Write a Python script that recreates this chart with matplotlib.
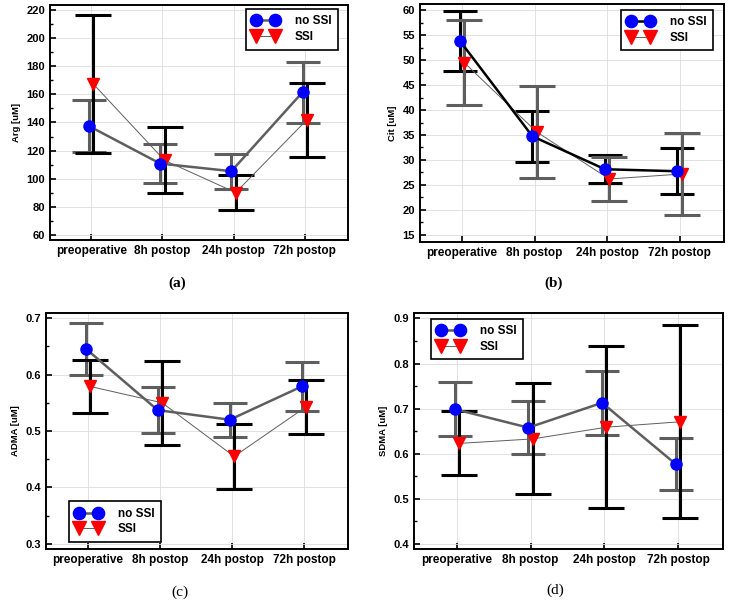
import matplotlib
matplotlib.use("Agg")
import matplotlib.pyplot as plt
import numpy as np

plt.rcParams['font.family'] = ['Liberation Sans', 'DejaVu Sans']

# categorias del eje x
times = ['preoperative', '8h postop', '24h postop', '72h postop']

# Arg
arg_no = [137.4, 110.8, 105.4, 161.5]
arg_no_err = [18.3, 13.8, 12.5, 21.6]
arg_ssi = [167.3, 113.1, 90.2, 141.8]
arg_ssi_err = [49.0, 23.4, 12.4, 26.3]

# Cit
cit_no = [53.85, 34.75, 28.15, 27.75]
cit_no_err = [6.05, 5.1, 2.75, 4.6]
cit_ssi = [49.5, 35.6, 26.2, 27.2]
cit_ssi_err = [8.5, 9.3, 4.4, 8.2]

# ADMA
adma_no = [0.646, 0.537, 0.520, 0.579]
adma_no_err = [0.046, 0.041, 0.030, 0.044]
adma_ssi = [0.579, 0.550, 0.455, 0.543]
adma_ssi_err = [0.047, 0.074, 0.057, 0.048]

# SDMA
sdma_no = [0.699, 0.658, 0.713, 0.577]
sdma_no_err = [0.060, 0.059, 0.071, 0.058]
sdma_ssi = [0.623, 0.633, 0.659, 0.671]
sdma_ssi_err = [0.071, 0.123, 0.180, 0.214]

GRAY = '#5e5e5e'

fig = plt.figure(figsize=(7.29, 6.0), dpi=100)

paneles = [
    # pos, datos, ylabel, ylim, yticks, minor, leyenda, etiqueta
    ([0.0686, 0.600, 0.4088, 0.3917], arg_no, arg_no_err, arg_ssi, arg_ssi_err,
     'Arg [uM]', (56.5, 223.5), np.arange(60, 221, 20), 10,
     ('upper right', (0.966, 0.983)), '(a)', (0.243, 0.528), 'bold', False),
    ([0.576, 0.5967, 0.417, 0.3966], cit_no, cit_no_err, cit_ssi, cit_ssi_err,
     'Cit [uM]', (13.6, 61.2), np.arange(15, 61, 5), 2.5,
     ('upper right', (0.964, 0.975)), '(b)', (0.760, 0.528), 'bold', True),
    ([0.0631, 0.085, 0.4143, 0.3933], adma_no, adma_no_err, adma_ssi, adma_ssi_err,
     'ADMA [uM]', (0.291, 0.709), np.arange(0.3, 0.71, 0.1), 0.05,
     ('lower left', (0.076, 0.030)), '(c)', (0.247, 0.013), 'normal', False),
    ([0.5679, 0.085, 0.4239, 0.3933], sdma_no, sdma_no_err, sdma_ssi, sdma_ssi_err,
     'SDMA [uM]', (0.389, 0.912), np.arange(0.4, 0.91, 0.1), 0.05,
     ('upper left', (0.055, 0.975)), '(d)', (0.761, 0.017), 'normal', False),
]

x = np.arange(len(times))

for (pos, no, no_err, ssi, ssi_err, ylabel, ylim, yticks, minor,
     leyenda, letra, letra_pos, peso, invertido) in paneles:
    ax = fig.add_axes(pos)
    if invertido:
        c_no, c_ssi = 'black', GRAY
    else:
        c_no, c_ssi = GRAY, 'black'

    ax.errorbar(x - 0.03, no, yerr=no_err, fmt='none', ecolor=c_no, elinewidth=2.2,
                capsize=12, capthick=2.2, zorder=3)
    ax.errorbar(x + 0.03, ssi, yerr=ssi_err, fmt='none', ecolor=c_ssi, elinewidth=2.2,
                capsize=13, capthick=2.2, zorder=3)

    ax.plot(x + 0.03, ssi, color=GRAY, lw=0.7, marker='v', markersize=9,
            markerfacecolor='red', markeredgecolor='red', zorder=4, label='SSI')
    ax.plot(x - 0.03, no, color=c_no, lw=1.8, marker='o', markersize=8,
            markerfacecolor='blue', markeredgecolor='blue', zorder=5, label='no SSI')

    ax.set_xlim(-0.58, 3.61)
    ax.set_ylim(*ylim)
    ax.set_xticks(x)
    ax.set_xticklabels(times, fontsize=8.5, fontweight='bold')
    ax.set_yticks(yticks)
    ax.set_yticklabels([f'{v:g}' if v >= 1 else f'{v:.1f}' for v in yticks],
                       fontsize=8, fontweight='bold')
    ax.set_yticks(np.arange(yticks[0] + minor, yticks[-1], 2 * minor), minor=True)
    ax.set_ylabel(ylabel, fontsize=6.8, fontweight='bold')
    ax.tick_params(axis='both', which='major', direction='in', length=4, width=1.2,
                   top=False, right=False)
    ax.tick_params(axis='y', which='minor', direction='in', length=2.5, width=1.0)
    ax.grid(True, color='#dcdcdc', lw=0.6, zorder=0)
    ax.set_axisbelow(True)
    for s in ax.spines.values():
        s.set_linewidth(1.4)

    handles, labels = ax.get_legend_handles_labels()
    leg = ax.legend(handles[::-1], labels[::-1], loc=leyenda[0], bbox_to_anchor=leyenda[1],
                    numpoints=2, fancybox=False, edgecolor='black', framealpha=1,
                    handlelength=2.2, handletextpad=1.4, labelspacing=0.3,
                    borderpad=0.55, borderaxespad=0, markerscale=1.1,
                    prop={'size': 8.5, 'weight': 'bold'})
    leg.get_frame().set_linewidth(1.2)

    fig.text(letra_pos[0], letra_pos[1], letra, ha='center', va='center',
             family=['Liberation Serif', 'DejaVu Serif'], fontsize=11, fontweight=peso)

fig.savefig('out.png', dpi=100)
